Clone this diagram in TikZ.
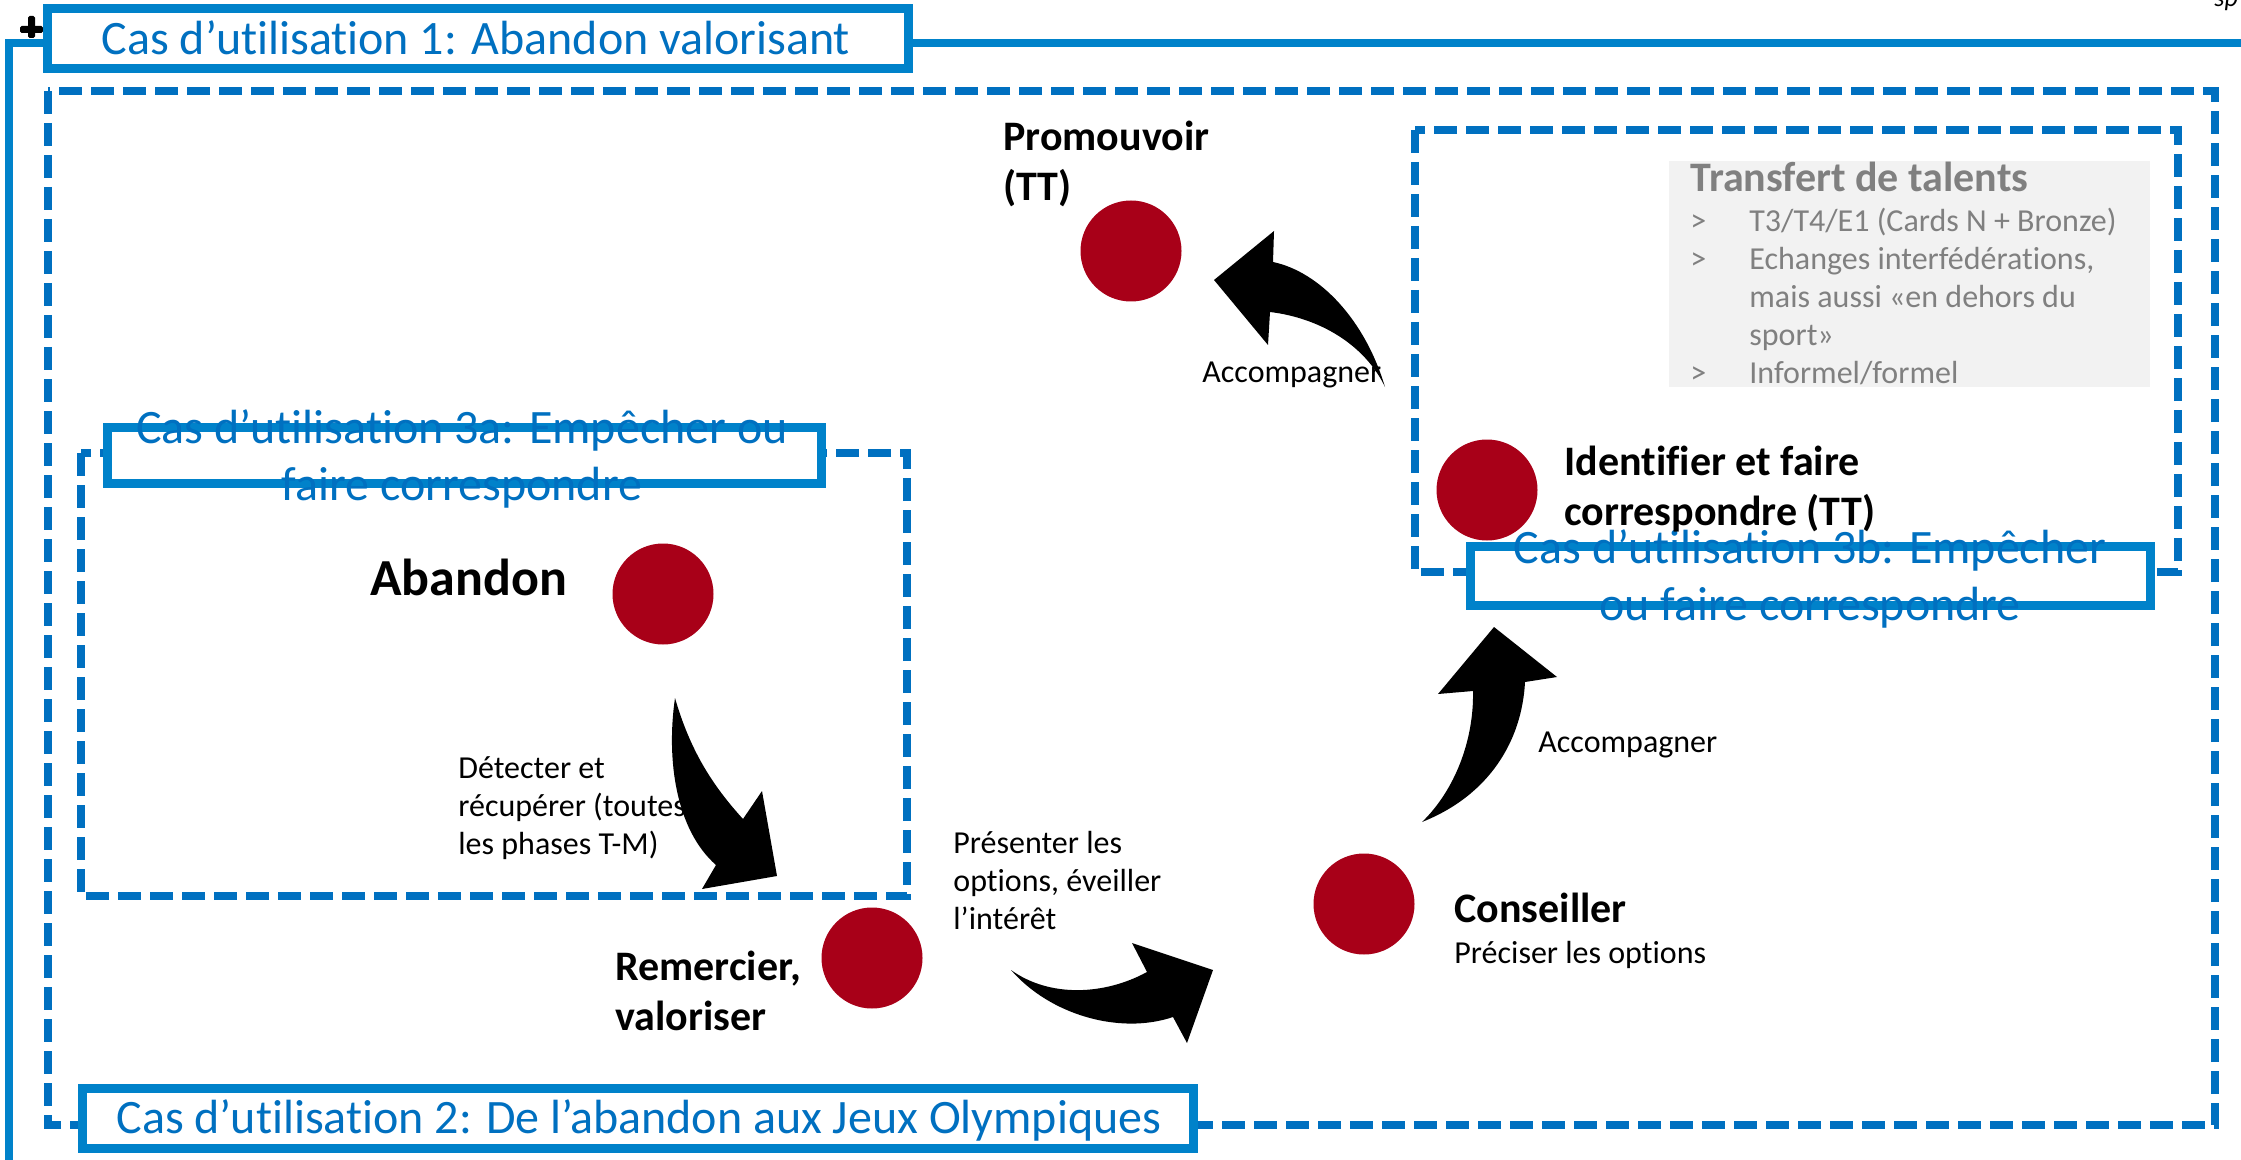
\documentclass[tikz,border=0pt]{standalone}
\usepackage{fontspec}
\setmainfont{Carlito}[Ligatures={NoCommon}]
\definecolor{solidblue}{RGB}{0,130,202}
\definecolor{dashblue}{RGB}{0,112,192}
\definecolor{dotred}{RGB}{168,0,24}
\definecolor{greybox}{RGB}{242,242,242}
\definecolor{greytext}{RGB}{128,128,128}
\newcommand{\mltext}[2]{\begin{tabular}[t]{@{}#1@{}}#2\end{tabular}}
\tikzset{
 solidline/.style={draw=solidblue, line width=4pt},
 dashbox/.style={draw=dashblue, line width=4pt, dash pattern=on 11.5pt off 4.5pt},
 titlebox/.style={draw=solidblue, line width=4.5pt, fill=white},
 dot/.style={circle, fill=dotred, minimum size=50.5pt, inner sep=0pt},
 txt/.style={inner sep=0pt, anchor=base west},
 ttl/.style={inner sep=0pt, anchor=base, text=dashblue, font=\fontsize{24}{28.5}\selectfont},
 lbl/.style={txt, font=\fontsize{21}{25}\selectfont\bfseries},
 sm/.style={txt, font=\fontsize{16}{19}\selectfont},
 arrowshape/.style={fill=black}
}
\begin{document}
\begin{tikzpicture}[x=0.5pt,y=-0.5pt]
\useasboundingbox (0,0) rectangle (2241,1160);
\clip (0,0) rectangle (2241,1160);
% outer frame
\draw[solidline] (9,1170) -- (9,43) -- (2260,43);
\fill[black, rounded corners=0.8pt] (20,26) rectangle (43,33);
\fill[black, rounded corners=0.8pt] (28,16) rectangle (35,38);
% dashed regions
\draw[dashbox] (48,91) rectangle (2215,1125);
\draw[dashbox] (81,453) rectangle (907,896);
\draw[dashbox] (1415,130) rectangle (2178,572);
% grey box
\fill[greybox] (1669,161) rectangle (2150,387);
% title boxes
\draw[titlebox] (47.5,9) rectangle (908,68.5);
\draw[titlebox] (82,1088) rectangle (1193,1148);
\draw[titlebox] (107,427) rectangle (821,483);
\draw[titlebox] (1470,546) rectangle (2150,605);
% dots
\node[dot] (promo) at (1131,251) {};
\node[dot] (ident) at (1487,490) {};
\node[dot] (aband) at (663,594) {};
\node[dot] (remer) at (872,958) {};
\node[dot] (cons) at (1364,904) {};
% title texts
\node[ttl] (t1) at (476,55) {Cas d’utilisation 1: Abandon valorisant};
\node[ttl] (t2) at (639,1133) {Cas d’utilisation 2: De l’abandon aux Jeux Olympiques};
\node[ttl] (t3a) at (462,443) {\mltext{c}{Cas d’utilisation 3a: Empêcher ou\\faire correspondre}};
\node[ttl] (t3b) at (1810,563) {\mltext{c}{Cas d’utilisation 3b: Empêcher\\ou faire correspondre}};
% grey box texts
\node[txt, text=greytext, font=\fontsize{21}{25}\selectfont\bfseries] (tt) at (1690,192) {Transfert de talents};
\node[txt, text=greytext, font=\fontsize{16}{19}\selectfont] (ttl) at (1690,232)
 {\begin{tabular}[t]{@{}p{29.5pt}@{}l@{}}
 > & T3/T4/E1 (Cards N + Bronze)\\
 > & Echanges interfédérations,\\
   & mais aussi «en dehors du\\
   & sport»\\
 > & Informel/formel
 \end{tabular}};
% labels
\node[lbl] (lpromo) at (1003,151) {\mltext{l}{Promouvoir\\(TT)}};
\node[txt, font=\fontsize{26}{31}\selectfont\bfseries] (laband) at (370,595) {Abandon};
\node[lbl] (lident) at (1564,475) {\mltext{l}{Identifier et faire\\correspondre (TT)}};
\node[lbl] (lremer) at (615,980) {\mltext{l}{Remercier,\\valoriser}};
\node[lbl] (lcons) at (1454,922) {Conseiller};
\node[sm] (lcons2) at (1454,963) {Préciser les options};
\node[sm] (acc1) at (1202,382) {Accompagner};
\node[sm] (acc2) at (1538,752) {Accompagner};
\node[sm] (det) at (458,778) {\mltext{l}{Détecter et\\récupérer (toutes\\les phases T-M)}};
\node[sm] (pres) at (953,853) {\mltext{l}{Présenter les\\options, éveiller\\l’intérêt}};
\node[txt, font=\fontsize{13}{15}\selectfont\itshape] (sp) at (2214,7) {sp};
% curved block arrows
\fill[arrowshape] (675,698) .. controls (666,760) and (676,830) .. (716,865)
  -- (702,889) -- (777,876) -- (762,791) -- (743,819)
  .. controls (712,785) and (690,750) .. (675,698) -- cycle;
\fill[arrowshape] (1011,970) .. controls (1050,1015) and (1120,1035) .. (1173,1017)
  -- (1187,1043) -- (1213,970) -- (1132,943) -- (1147,972)
  .. controls (1105,995) and (1050,998) .. (1011,970) -- cycle;
\fill[arrowshape] (1422,822) .. controls (1455,790) and (1474,740) .. (1473,691)
  -- (1438,694) -- (1494,627) -- (1557,677) -- (1525,682)
  .. controls (1522,740) and (1490,795) .. (1422,822) -- cycle;
\fill[arrowshape] (1385,387) .. controls (1365,320) and (1320,272) .. (1273,262)
  -- (1274,231) -- (1214,280) -- (1268,345) -- (1270,312)
  .. controls (1320,318) and (1365,345) .. (1385,387) -- cycle;
\end{tikzpicture}
\end{document}
